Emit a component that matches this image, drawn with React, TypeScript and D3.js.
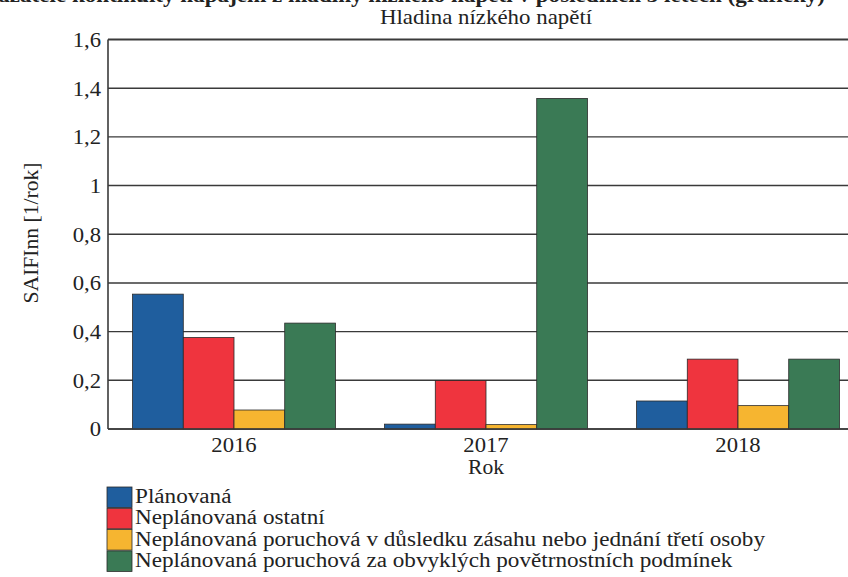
import React from "react";
import * as d3 from "d3";

const years = ["2016", "2017", "2018"];
const seriesNames = [
  "Plánovaná",
  "Neplánovaná ostatní",
  "Neplánovaná poruchová v důsledku zásahu nebo jednání třetí osoby",
  "Neplánovaná poruchová za obvyklých povětrnostních podmínek",
];
const seriesColors = ["#1f5e9e", "#ef343e", "#f6b530", "#3a7a55"];
const planovana = [0.554, 0.02, 0.115];
const neplanOstatni = [0.376, 0.199, 0.287];
const neplanTretiOsoba = [0.078, 0.018, 0.096];
const neplanPocasi = [0.435, 1.358, 0.287];
const yTicks = [0, 0.2, 0.4, 0.6, 0.8, 1, 1.2, 1.4, 1.6];

const seriesValues = [planovana, neplanOstatni, neplanTretiOsoba, neplanPocasi];

const W = 848;
const H = 577;
const left = 108;
const right = 864;
const top = 39.5;
const bottom = 429;

const FONT = "Liberation Serif, DejaVu Serif, Times New Roman, serif";

function T(props: {
  x: number;
  y: number;
  size: number;
  sx?: number;
  anchor?: string;
  weight?: string;
  dy?: string;
  children: React.ReactNode;
}) {
  const { x, y, size, sx = 1.1, anchor = "start", weight = "normal", dy } = props;
  return (
    <text
      transform={`translate(${x},${y}) scale(${sx},1)`}
      textAnchor={anchor}
      dy={dy}
      fill="#222"
      style={{ fontFamily: FONT, fontSize: size + "px", fontWeight: weight as any }}
    >
      {props.children}
    </text>
  );
}

export default function App() {
  const y = d3.scaleLinear().domain([0, 1.6]).range([bottom, top]);
  const x0 = d3
    .scaleBand<string>()
    .domain(years)
    .range([left, right])
    .paddingInner(0.195)
    .paddingOuter(0.0975);
  const x1 = d3
    .scaleBand<string>()
    .domain(seriesNames)
    .range([0, x0.bandwidth()]);
  const fmt = (v: number) => d3.format("~g")(v).replace(".", ",");

  return (
    <svg
      width={W}
      height={H}
      style={{ position: "absolute", left: 0, top: 0, background: "#fff" }}
    >
      <rect x={0} y={0} width={W} height={H} fill="#fff" />
      <T x={825} y={2} size={22} weight="bold" anchor="end" sx={1.05}>
        Ukazatele kontinuity napájení z hladiny nízkého napětí v posledních 3 letech (grafický)
      </T>
      <T x={(left + right) / 2} y={24} size={21} anchor="middle" sx={1.09}>
        Hladina nízkého napětí
      </T>
      {yTicks.map((t) => (
        <line
          key={"g" + t}
          x1={left}
          x2={right}
          y1={y(t)}
          y2={y(t)}
          stroke="#3a3a3a"
          strokeWidth={t === 1.6 ? 2 : 1.4}
        />
      ))}
      <line x1={left} x2={left} y1={top} y2={bottom} stroke="#3a3a3a" strokeWidth={1.6} />
      {yTicks.map((t) => (
        <T key={"t" + t} x={101} y={y(t)} dy="0.35em" size={21} anchor="end" sx={1.08}>
          {fmt(t)}
        </T>
      ))}
      {years.map((yr, i) => (
        <g key={yr} transform={`translate(${x0(yr)},0)`}>
          {seriesNames.map((s, j) => {
            const v = seriesValues[j][i];
            return (
              <rect
                key={s}
                x={x1(s)}
                y={y(v)}
                width={x1.bandwidth()}
                height={bottom - y(v)}
                fill={seriesColors[j]}
                stroke="#2a2a2a"
                strokeWidth={0.8}
              />
            );
          })}
        </g>
      ))}
      <line x1={left} x2={right} y1={bottom} y2={bottom} stroke="#3a3a3a" strokeWidth={1.6} />
      {years.map((yr) => (
        <T
          key={"x" + yr}
          x={(x0(yr) as number) + x0.bandwidth() / 2}
          y={452}
          size={21}
          anchor="middle"
          sx={1.08}
        >
          {yr}
        </T>
      ))}
      <T x={(left + right) / 2} y={474} size={20} anchor="middle" sx={1.08}>
        Rok
      </T>
      <text
        transform={`translate(38,233) rotate(-90) scale(1.08,1)`}
        textAnchor="middle"
        fill="#222"
        style={{ fontFamily: FONT, fontSize: "20px" }}
      >
        SAIFInn [1/rok]
      </text>
      {seriesNames.map((s, j) => (
        <g key={"l" + s} transform={`translate(107,${487 + j * 21.3})`}>
          <rect x={0} y={0} width={25} height={20.5} fill={seriesColors[j]} stroke="#2a2a2a" strokeWidth={0.8} />
          <T x={28} y={16} size={20.5} sx={1.13}>
            {s}
          </T>
        </g>
      ))}
    </svg>
  );
}
